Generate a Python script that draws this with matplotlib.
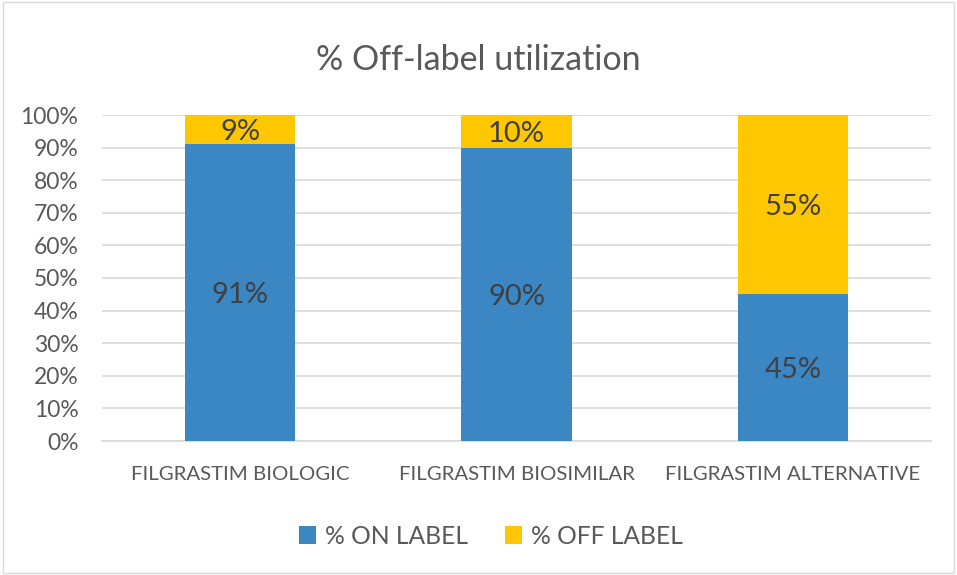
import matplotlib
matplotlib.use("Agg")
import matplotlib.pyplot as plt
from matplotlib.patches import Rectangle

categories = ["FILGRASTIM BIOLOGIC", "FILGRASTIM BIOSIMILAR", "FILGRASTIM ALTERNATIVE"]
on_label = [91, 90, 45]
off_label = [9, 10, 55]
yticks = [0, 10, 20, 30, 40, 50, 60, 70, 80, 90, 100]

plt.rcParams['font.family'] = ['Lato', 'DejaVu Sans']
blue = "#3A87C4"
yellow = "#FFC700"
txt = "#595959"

fig = plt.figure(figsize=(9.57, 5.75), dpi=100)
ax = fig.add_axes([102/957, 134/575, 829/957, 326/575])

x = list(range(len(categories)))
b1 = ax.bar(x, on_label, width=0.4, color=blue, label="% ON LABEL", zorder=3)
b2 = ax.bar(x, off_label, width=0.4, bottom=on_label, color=yellow, label="% OFF LABEL", zorder=3)

for i in x:
    ax.text(i, on_label[i] / 2, f"{on_label[i]}%", ha="center", va="center_baseline",
            fontsize=21, color="#404040", zorder=4)
    ax.text(i, on_label[i] + off_label[i] / 2, f"{off_label[i]}%", ha="center",
            va="center_baseline", fontsize=21, color="#404040", zorder=4)

ax.set_xlim(-0.5, 2.5)
ax.set_ylim(0, 100)
ax.set_yticks(yticks)
ax.set_yticklabels([f"{v}%" for v in yticks], fontsize=16.5, color=txt)
ax.set_xticks(x)
ax.set_xticklabels(categories, fontsize=14.7, color=txt)
ax.tick_params(axis="both", length=0)
ax.tick_params(axis="y", pad=17)
ax.tick_params(axis="x", pad=18)
ax.grid(axis="y", color="#D9D9D9", linewidth=1.2, zorder=0)
for s in ["top", "right", "left"]:
    ax.spines[s].set_visible(False)
ax.spines["bottom"].set_color("#D9D9D9")
ax.spines["bottom"].set_linewidth(1.2)

fig.text(0.5, 1 - 60/575, "% Off-label utilization", ha="center", va="center",
         fontsize=24.5, color=txt)

fig.legend(handles=[b1, b2], loc="center", bbox_to_anchor=(0.513, 1 - 536/575), ncol=2,
           frameon=False, fontsize=17.7, labelcolor=txt, handlelength=0.7, handleheight=0.7,
           columnspacing=1.5, handletextpad=0.35)

fig.patches.append(Rectangle((0.003, 0.003), 0.994, 0.994, transform=fig.transFigure,
                             fill=False, edgecolor="#D9D9D9", linewidth=1))

fig.savefig("out.png", dpi=100)
